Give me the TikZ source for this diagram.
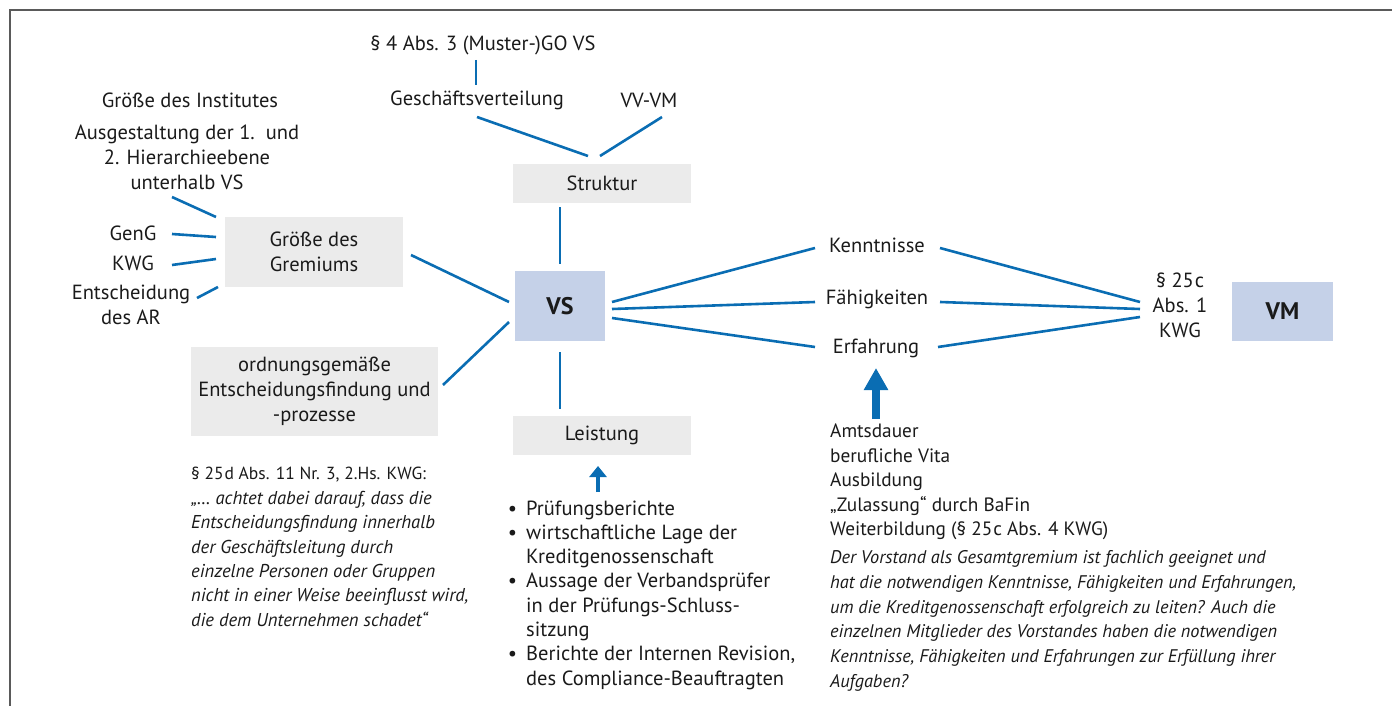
\documentclass[tikz,border=0pt]{standalone}
\usepackage{fontspec}
\setmainfont{PT Sans}
\usetikzlibrary{arrows.meta,calc}
\definecolor{lineblue}{HTML}{0A6DB3}
\definecolor{boxgrey}{HTML}{EBEBEB}
\definecolor{boxblue}{HTML}{C5D1E8}
\definecolor{txtc}{HTML}{1A1A1A}
\definecolor{framec}{HTML}{5A5A5A}
\begin{document}
\begin{tikzpicture}[x=1pt,y=-1pt,
  txt/.style={text=txtc,inner sep=0pt,align=center,font=\fontsize{20.5}{25}\selectfont},
  gbox/.style={txt,fill=boxgrey},
  bbox/.style={txt,fill=boxblue,font=\fontsize{24}{25}\selectfont\bfseries},
  conn/.style={draw=lineblue,line width=2.6pt},
  bigarrow/.style={draw=lineblue,line width=8pt,-{Triangle[length=22pt,width=23pt]}},
  smallarrow/.style={draw=lineblue,line width=4.5pt,-{Triangle[length=11pt,width=17pt]}}]
\useasboundingbox (0,0) rectangle (1392,706);
\draw[framec,line width=2pt] (1392,10) -- (10,10) -- (10,706);

% top
\node[txt] (gom) at (483,45) {§ 4 Abs. 3 (Muster-)GO VS};
\node[txt] (gv) at (477,100) {Geschäftsverteilung};
\node[txt] (vv) at (649,100) {VV-VM};
\node[gbox,minimum width=178pt,minimum height=39pt] (str) at (602,183.5) {Struktur};
\node[bbox,minimum width=90pt,minimum height=70pt] (vs) at (560,306) {VS};
\node[gbox,minimum width=178pt,minimum height=39pt] (lei) at (602,435.5) {Leistung};

\draw[conn] ($(gv)+(-1,-40)$) -- ($(gv)+(-1,-15)$);
\draw[conn] ($(gv)+(0,17)$) -- ($(str)+(-14,-27.5)$);
\draw[conn] ($(vv)+(13,17)$) -- ($(str)+(-2,-27.5)$);
\draw[conn] ($(vs)+(0,-99)$) -- ($(vs)+(0,-42)$);
\draw[conn] ($(vs)+(0,46)$) -- ($(vs)+(0,103)$);

% left
\node[txt] (ginst) at (190,100) {Größe des Institutes};
\node[txt] (ausg) at (187,157) {Ausgestaltung der 1.\ \ und\\2. Hierarchieebene\\unterhalb VS};
\node[txt] (geng) at (133,233) {GenG};
\node[txt] (kwg) at (133,263) {KWG};
\node[txt] (ents) at (131,305) {Entscheidung\\des AR};
\node[gbox,minimum width=178pt,minimum height=70pt] (grem) at (314,252) {Größe des\\Gremiums};
\node[gbox,minimum width=247pt,minimum height=89pt] (ordn) at (314.5,391.5) {ordnungsgemäße\\Entscheidungsfindung und\\-prozesse};

\draw[conn] ($(ausg)+(-15,40)$) -- ($(grem)+(-98,-35)$);
\draw[conn] ($(geng)+(39,1)$) -- ($(grem)+(-98,-15)$);
\draw[conn] ($(kwg)+(39,2)$) -- ($(grem)+(-98,7)$);
\draw[conn] ($(ents)+(66,-7)$) -- ($(grem)+(-96,35)$);
\draw[conn] ($(grem)+(97,3)$) -- ($(vs)+(-51,-4)$);
\draw[conn] ($(ordn)+(128.5,-6.5)$) -- ($(vs)+(-51,16)$);

\node[txt,align=left,anchor=west,font=\fontsize{17.5}{24.4}\selectfont] (quote) at (191,547)
 {§ 25\kern1pt d Abs. 11 Nr. 3, 2.Hs. KWG:\\
  \fontsize{18.6}{24.4}\selectfont\itshape „… achtet dabei darauf, dass die\\
  \fontsize{18.6}{24.4}\selectfont\itshape Entscheidungsfindung innerhalb\\
  \fontsize{18.6}{24.4}\selectfont\itshape der Geschäftsleitung durch\\
  \fontsize{18.6}{24.4}\selectfont\itshape einzelne Personen oder Gruppen\\
  \fontsize{18.6}{24.4}\selectfont\itshape nicht in einer Weise beeinflusst wird,\\
  \fontsize{18.6}{24.4}\selectfont\itshape die dem Unternehmen schadet“};

% bottom middle
\node[txt,align=left,anchor=west,font=\fontsize{20.5}{24.3}\selectfont] (bul) at (526,595)
 {\llap{•\hspace{9pt}}Prüfungsberichte\\
  \llap{•\hspace{9pt}}wirtschaftliche Lage der\\
  Kreditgenossenschaft\\
  \llap{•\hspace{9pt}}Aussage der Verbandsprüfer\\
  in der Prüfungs-Schluss-\\
  sitzung\\
  \llap{•\hspace{9pt}}Berichte der Internen Revision,\\
  des Compliance-Beauftragten};
\draw[smallarrow] ($(lei)+(-4,56.5)$) -- ($(lei)+(-4,30.5)$);

% right
\node[txt] (kenn) at (877,245) {Kenntnisse};
\node[txt] (faeh) at (877,299) {Fähigkeiten};
\node[txt] (erf) at (876,348) {Erfahrung};
\node[txt] (par) at (1180,305) {§ 25\kern1pt c\\Abs. 1\\KWG};
\node[bbox,minimum width=101pt,minimum height=59pt] (vm) at (1282.5,311.5) {VM};

\draw[conn] ($(vs)+(52,-4)$) -- ($(kenn)+(-62,3)$);
\draw[conn] ($(vs)+(52,3)$) -- ($(faeh)+(-62,3)$);
\draw[conn] ($(vs)+(52,12)$) -- ($(erf)+(-61,-1)$);
\draw[conn] ($(kenn)+(63,3)$) -- ($(par)+(-40,-3)$);
\draw[conn] ($(faeh)+(63,3)$) -- ($(par)+(-40,4)$);
\draw[conn] ($(erf)+(62,-1)$) -- ($(par)+(-40,12)$);

\node[txt,align=left,anchor=west,font=\fontsize{19.3}{24.5}\selectfont] (krit) at (830,482)
 {Amtsdauer\\berufliche Vita\\Ausbildung\\„Zulassung“ durch BaFin\\Weiterbildung (§ 25\kern1pt c Abs. 4 KWG)};
\node[txt,align=left,anchor=west,font=\fontsize{18.3}{24.8}\selectfont\itshape] (frage) at (830,621)
 {Der Vorstand als Gesamtgremium ist fachlich geeignet und\\
  hat die notwendigen Kenntnisse, Fähigkeiten und Erfahrungen,\\
  um die Kreditgenossenschaft erfolgreich zu leiten? Auch die\\
  einzelnen Mitglieder des Vorstandes haben die notwendigen\\
  Kenntnisse, Fähigkeiten und Erfahrungen zur Erfüllung ihrer\\
  Aufgaben?};
\draw[bigarrow] ($(erf)+(0,71)$) -- ($(erf)+(0,20)$);
\end{tikzpicture}
\end{document}
